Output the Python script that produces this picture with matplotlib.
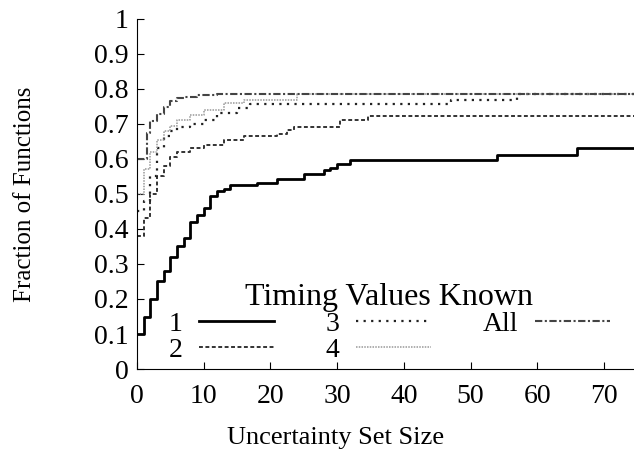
import matplotlib
matplotlib.use('Agg')
import matplotlib.pyplot as plt
from matplotlib.ticker import MultipleLocator, FuncFormatter

plt.rcParams['font.family'] = ['Liberation Serif', 'DejaVu Serif']

# Step curves: x where the fraction changes, and the fraction from there on
x1 = [0, 1, 2, 3, 4, 5, 6, 7, 8, 9, 10, 11, 12, 13, 14, 18, 21, 25, 28, 29, 30, 32, 54, 66, 75]
y1 = [0.10, 0.15, 0.20, 0.25, 0.28, 0.32, 0.35, 0.375, 0.42, 0.44, 0.46, 0.495, 0.507, 0.513,
      0.526, 0.532, 0.543, 0.558, 0.567, 0.575, 0.586, 0.597, 0.61, 0.63, 0.63]

x2 = [0, 1, 2, 3, 4, 5, 6, 8, 10, 13, 16, 21, 22.5, 23.5, 30.5, 34.6, 75]
y2 = [0.38, 0.43, 0.50, 0.55, 0.58, 0.605, 0.62, 0.63, 0.64, 0.654, 0.664, 0.671, 0.683,
      0.692, 0.711, 0.722, 0.722]

x3 = [0, 1, 2, 3, 4, 5, 6, 8, 10, 12, 15, 17, 47, 57, 75]
y3 = [0.45, 0.48, 0.55, 0.63, 0.665, 0.68, 0.69, 0.70, 0.71, 0.73, 0.745, 0.756, 0.769,
      0.785, 0.785]

x4 = [0, 1, 2, 3, 4, 5, 6, 8, 10, 13, 16, 24, 75]
y4 = [0.50, 0.57, 0.62, 0.655, 0.68, 0.695, 0.71, 0.725, 0.74, 0.759, 0.769, 0.785, 0.785]

x_all = [0, 1.5, 2, 3, 4, 5, 6, 7, 9, 12, 75]
y_all = [0.60, 0.675, 0.708, 0.728, 0.747, 0.764, 0.773, 0.778, 0.783, 0.786, 0.786]

labels = ['1', '2', '3', '4', 'All']

fig = plt.figure(figsize=(6.34, 4.59), dpi=100)
ax = fig.add_axes([0.216, 0.196, 0.784, 0.763])

ax.step(x1, y1, where='post', color='black', lw=2.0, label=labels[0])
ax.step(x2, y2, where='post', color='#333333', lw=1.4, ls=(0, (2, 1.3)), label=labels[1])
ax.step(x3, y3, where='post', color='#222222', lw=1.6, ls=(0, (1, 2.4)), label=labels[2])
ax.step(x4, y4, where='post', color='#999999', lw=1.1, ls=(0, (1, 0.8)), label=labels[3])
ax.step(x_all, y_all, where='post', color='#444444', lw=1.5, ls=(0, (3.5, 1.2, 1, 1.2)),
        label=labels[4])

ax.set_xlim(0, 74.5)
ax.set_ylim(0, 1)
ax.xaxis.set_major_locator(MultipleLocator(10))
ax.yaxis.set_major_locator(MultipleLocator(0.1))
ax.yaxis.set_major_formatter(FuncFormatter(lambda v, p: '%g' % round(v, 1)))
ax.spines['top'].set_visible(False)
ax.spines['right'].set_visible(False)
ax.tick_params(direction='in', length=5, width=0.8, labelsize=20)
ax.tick_params(axis='x', pad=11)
ax.tick_params(axis='y', pad=6)

ax.set_xlabel('Uncertainty Set Size', fontsize=19)
ax.xaxis.set_label_coords(0.40, -0.165)
ax.set_ylabel('Fraction of Functions', fontsize=18, labelpad=42)

leg = ax.legend(loc='lower center', bbox_to_anchor=(0.508, -0.037), ncol=3, frameon=False,
                markerfirst=False, fontsize=20, title='Timing Values Known',
                title_fontsize=23, handlelength=2.7, handletextpad=0.6,
                columnspacing=1.85, labelspacing=0.0, borderpad=0.2)

fig.savefig('out.png', dpi=100, facecolor='white')
